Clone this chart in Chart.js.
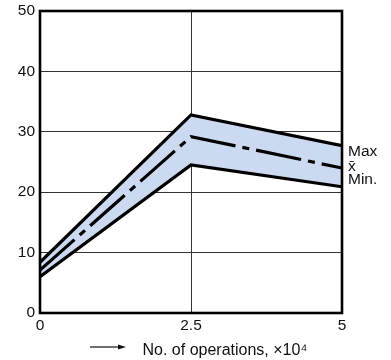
<!DOCTYPE html>
<html>
<head>
<meta charset="utf-8">
<script src="https://cdn.jsdelivr.net/npm/chart.js@4/dist/chart.umd.min.js"></script>
<style>
  html, body { margin: 0; padding: 0; background: #fff; }
  #wrap { width: 391px; height: 360px; }
</style>
</head>
<body>
<div id="wrap"><canvas id="c" width="391" height="360"></canvas></div>
<script>
// Operations (×10^4) and the measured band: maximum, mean and minimum
const operations = [0, 2.5, 5];
const maxValues  = [8.4, 32.8, 27.7];
const meanValues = [7.1, 29.2, 24.0];
const minValues  = [6.0, 24.5, 20.9];

const xTickValues = [0, 2.5, 5];
const yTickValues = [0, 10, 20, 30, 40, 50];
const seriesNames = ['Max', 'x\u0304', 'Min.'];
const xAxisTitle = 'No. of operations, \u00d710\u2074';

const FONT = "'Liberation Sans', Arial, Helvetica, sans-serif";
const BAND_FILL = 'rgb(203, 218, 240)';

const toPoints = vals => vals.map((v, i) => ({ x: operations[i], y: v }));

// Frame around the plot, end labels of the series and the x-axis caption with arrow
const decorations = {
  id: 'decorations',
  afterDraw(chart) {
    const { ctx, chartArea: a, scales } = chart;
    ctx.save();
    ctx.strokeStyle = '#000';
    ctx.lineWidth = 2.6;
    ctx.strokeRect(a.left, a.top, a.right - a.left, a.bottom - a.top);

    // Series names stacked beside the right end of the band
    ctx.fillStyle = '#111';
    ctx.font = '15.5px ' + FONT;
    ctx.textAlign = 'left';
    ctx.textBaseline = 'alphabetic';
    const lastIdx = operations.length - 1;
    const ends = [maxValues[lastIdx], meanValues[lastIdx], minValues[lastIdx]];
    const nudges = [10, 2.5, -2.5];
    ends.forEach((v, i) => {
      const y = scales.y.getPixelForValue(v) + nudges[i];
      ctx.fillText(seriesNames[i], a.right + 6, y);
    });

    // Axis caption with a leading arrow
    const capY = 347;
    ctx.strokeStyle = '#111';
    ctx.lineWidth = 1.2;
    ctx.beginPath();
    ctx.moveTo(90, capY);
    ctx.lineTo(120, capY);
    ctx.stroke();
    ctx.beginPath();
    ctx.moveTo(126, capY);
    ctx.lineTo(118, capY - 2.5);
    ctx.lineTo(118, capY + 2.5);
    ctx.closePath();
    ctx.fill();
    ctx.font = '16px ' + FONT;
    ctx.fillText(xAxisTitle, 142.5, 355);
    ctx.restore();
  }
};

new Chart(document.getElementById('c'), {
  type: 'line',
  data: {
    datasets: [
      {
        label: seriesNames[0],
        data: toPoints(maxValues),
        borderColor: '#000',
        borderWidth: 3.2,
        backgroundColor: BAND_FILL,
        fill: '+2',
        pointRadius: 0,
        tension: 0
      },
      {
        label: seriesNames[1],
        data: toPoints(meanValues),
        borderColor: '#000',
        borderWidth: 3.2,
        borderDash: [46, 7, 7, 7],
        fill: false,
        pointRadius: 0,
        tension: 0
      },
      {
        label: seriesNames[2],
        data: toPoints(minValues),
        borderColor: '#000',
        borderWidth: 3.2,
        fill: false,
        pointRadius: 0,
        tension: 0
      }
    ]
  },
  options: {
    responsive: false,
    animation: false,
    devicePixelRatio: 1,
    layout: { padding: { left: 0, top: 11, right: 49, bottom: 0 } },
    plugins: {
      legend: { display: false },
      tooltip: { enabled: false },
      title: { display: false },
      filler: { drawTime: 'beforeDatasetsDraw' }
    },
    scales: {
      x: {
        type: 'linear',
        min: 0,
        max: 5,
        z: 1,
        afterBuildTicks: s => { s.ticks = xTickValues.map(v => ({ value: v })); },
        afterFit: s => { s.height = 47; s.paddingLeft = 0; s.paddingRight = 0; },
        grid: { color: '#333', lineWidth: 1, drawTicks: false },
        border: { display: false },
        ticks: {
          padding: 3,
          color: '#111',
          font: { family: FONT, size: 15.5 },
          callback: v => String(v)
        }
      },
      y: {
        min: 0,
        max: 50,
        z: 1,
        afterBuildTicks: s => { s.ticks = yTickValues.map(v => ({ value: v })); },
        afterFit: s => { s.width = 40; s.paddingTop = 0; s.paddingBottom = 0; },
        grid: { color: '#333', lineWidth: 1, drawTicks: false },
        border: { display: false },
        ticks: {
          padding: 5,
          color: '#111',
          font: { family: FONT, size: 15.5 },
          callback: v => String(v)
        }
      }
    }
  },
  plugins: [decorations]
});
</script>
</body>
</html>
